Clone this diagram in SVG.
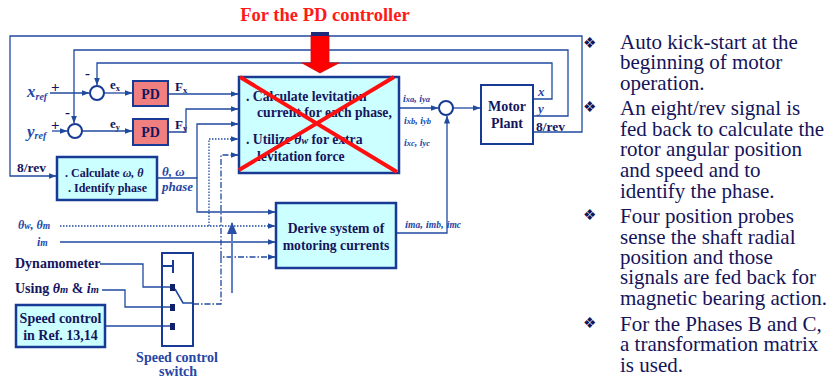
<svg xmlns="http://www.w3.org/2000/svg" width="831" height="379" viewBox="0 0 831 379">
<defs>
<marker id="ah" markerWidth="8" markerHeight="6" refX="7.5" refY="3" orient="auto" markerUnits="userSpaceOnUse"><path d="M0,0 L8,3 L0,6 z" fill="#1f4aa0"/></marker>
<marker id="ahb" markerWidth="12" markerHeight="10" refX="11" refY="5" orient="auto" markerUnits="userSpaceOnUse"><path d="M0,0 L12,5 L0,10 z" fill="#2a4fa8"/></marker>
<style>
.ln{fill:none;stroke:#1f4aa0;stroke-width:1.3}
.dot{stroke-dasharray:1.5 1.5}
.dd{stroke-dasharray:6 2 1.5 2}
.box{fill:#ccffff;stroke:#173a94;stroke-width:2.5}
.wbox{fill:#ffffff;stroke:#173a94;stroke-width:2}
.pd{fill:#f08080;stroke:#173a94;stroke-width:2}
.sum{fill:#ffffff;stroke:#173a94;stroke-width:2}
text{font-family:"Liberation Serif","Times New Roman",Times,"DejaVu Serif",serif}
.bt{font-weight:bold;fill:#15155e}
.lb{font-weight:bold;font-style:italic;fill:#2646a6}
.rt{font-size:21px;fill:#14145a}
.bul{font-family:"DejaVu Sans",sans-serif;font-size:15px;fill:#14145a}
.ttl{font-weight:bold;font-size:18.5px;fill:#ff1a1a}
</style>
</defs>
<rect width="831" height="379" fill="#ffffff"/>

<text class="ttl" x="325" y="21" text-anchor="middle">For the PD controller</text>

<g id="connectors">
<path class="ln" d="M533,132 H582 V36 H10 V176 H56" marker-end="url(#ah)"/>
<path class="ln" d="M533,116 H568 V50 H74 V123" marker-end="url(#ah)"/>
<path class="ln" d="M533,99 H552 V63 H97 V85" marker-end="url(#ah)"/>
<path class="ln" d="M50,93 H89" marker-end="url(#ah)"/>
<path class="ln" d="M52,131 H67" marker-end="url(#ah)"/>
<path class="ln" d="M104,93 H132" marker-end="url(#ah)"/>
<path class="ln" d="M82,131 H132" marker-end="url(#ah)"/>
<path class="ln" d="M168,94 H238" marker-end="url(#ah)"/>
<path class="ln" d="M168,132 H186 V109 H238" marker-end="url(#ah)"/>
<path class="ln" d="M157,178 H197 V212 H275" marker-end="url(#ah)"/>
<path class="ln" d="M197,178 V124 H238" marker-end="url(#ah)"/>
<path class="ln dot" d="M60,226 H275" marker-end="url(#ah)"/>
<path class="ln dot" d="M209,226 V139 H238" marker-end="url(#ah)"/>
<path class="ln" d="M60,242 H275" marker-end="url(#ah)"/>
<path class="ln dd" d="M193,304 H221 V257 H275" marker-end="url(#ah)"/>
<path class="ln dd" d="M221,257 V155 H238" marker-end="url(#ah)"/>
<path fill="none" stroke="#5f7fc4" stroke-width="2" d="M232,293 V223" marker-end="url(#ahb)"/>
<path class="ln" d="M400,108 H438" marker-end="url(#ah)"/>
<path class="ln" d="M396,233 H447 V116" marker-end="url(#ah)"/>
<path class="ln" d="M453,108 H480" marker-end="url(#ah)"/>
<path class="ln" d="M100,264 H143 V287 H170"/>
<path class="ln" d="M102,290 H125 V307 H170"/>
<path class="ln" d="M105,326 H170"/>
<path fill="none" stroke="#1f4aa0" stroke-width="1.6" d="M175,289 L183,303 H193"/>
</g>

<g id="red-arrow">
<path d="M311,35 H329 V63 H339 L320,73 L302,63 H311 Z" fill="#ff0000" stroke="#d01010" stroke-width="0.8"/>
<rect x="311" y="32" width="18" height="4" fill="#1f2a7a"/>
</g>

<g id="sum-x"><circle class="sum" cx="97" cy="93" r="7"/></g>
<g id="sum-y"><circle class="sum" cx="75" cy="131" r="7"/></g>
<g id="sum-i"><circle class="sum" cx="446" cy="108" r="7"/></g>

<g id="labels-ref">
<text class="lb" x="27" y="97" font-size="17">x<tspan font-size="10" dy="3">ref</tspan></text>
<text class="lb" x="27" y="137" font-size="17">y<tspan font-size="10" dy="2">ref</tspan></text>
<text class="bt" x="51" y="92" font-size="15" fill="#2646a6">+</text>
<text class="bt" x="51" y="130" font-size="15" fill="#2646a6">+</text>
<text class="bt" x="85" y="78" font-size="15" fill="#2646a6">-</text>
<text class="bt" x="65" y="117" font-size="15" fill="#2646a6">-</text>
<text class="bt" x="110" y="89" font-size="13">e<tspan font-size="8.5" dy="2">x</tspan></text>
<text class="bt" x="110" y="128" font-size="13">e<tspan font-size="8.5" dy="2">y</tspan></text>
<text class="bt" x="175" y="91" font-size="13">F<tspan font-size="8.5" dy="2">x</tspan></text>
<text class="bt" x="175" y="129" font-size="13">F<tspan font-size="8.5" dy="2">y</tspan></text>
</g>

<g id="pd-x"><rect class="pd" x="133" y="81" width="35" height="25"/><text class="bt" x="150.5" y="98.5" font-size="14" text-anchor="middle">PD</text></g>
<g id="pd-y"><rect class="pd" x="133" y="119" width="35" height="26"/><text class="bt" x="150.5" y="137" font-size="14" text-anchor="middle">PD</text></g>

<g id="calc-levitation">
<rect class="box" x="239" y="77" width="160" height="96"/>
<text class="bt" font-size="13.7"><tspan x="246" y="101">. Calculate levitation</tspan><tspan x="257" y="117">current for each phase,</tspan><tspan x="246" y="144">. Utilize <tspan font-style="italic">θ<tspan font-size="10">w</tspan></tspan> for extra</tspan><tspan x="257" y="161">levitation force</tspan></text>
<path d="M240,77 L397,172 M394,77 L239,170" stroke="#ff1010" stroke-width="4" fill="none"/>
</g>

<g id="calc-omega">
<rect class="box" x="57" y="157" width="100" height="43"/>
<text class="bt" font-size="12"><tspan x="65" y="177">. Calculate <tspan font-style="italic">ω, θ</tspan></tspan><tspan x="68" y="192">.  Identify phase</tspan></text>
</g>
<text class="bt" x="17" y="172" font-size="13.5">8/rev</text>
<text class="lb" x="162" y="176" font-size="13">θ, ω</text>
<text class="lb" x="162" y="191" font-size="13">phase</text>

<g id="derive">
<rect class="box" x="276" y="203" width="120" height="65"/>
<text class="bt" font-size="13.7" text-anchor="middle"><tspan x="336" y="233">Derive system of</tspan><tspan x="336" y="250">motoring currents</tspan></text>
</g>

<g id="motor-plant">
<rect class="wbox" x="481" y="85" width="52" height="59"/>
<text class="bt" font-size="14" text-anchor="middle"><tspan x="507" y="111">Motor</tspan><tspan x="507" y="128">Plant</tspan></text>
</g>
<text class="lb" x="538" y="96" font-size="13">x</text>
<text class="lb" x="538" y="113" font-size="13">y</text>
<text class="bt" x="536" y="131" font-size="13.5">8/rev</text>

<g id="current-labels">
<text class="lb" x="403" y="102" font-size="10">i<tspan font-size="8.5">xa</tspan>, i<tspan font-size="8.5">ya</tspan></text>
<text class="lb" x="404" y="124" font-size="10">i<tspan font-size="8.5">xb</tspan>, i<tspan font-size="8.5">yb</tspan></text>
<text class="lb" x="404" y="146" font-size="10">i<tspan font-size="8.5">xc</tspan>, i<tspan font-size="8.5">yc</tspan></text>
<text class="lb" x="405" y="228" font-size="11">i<tspan font-size="9.5">ma</tspan>, i<tspan font-size="9.5">mb</tspan>, i<tspan font-size="9.5">mc</tspan></text>
</g>

<text class="lb" x="18" y="229" font-size="12">θ<tspan font-size="9.5">w</tspan>, θ<tspan font-size="9.5">m</tspan></text>
<text class="lb" x="37" y="246" font-size="12">i<tspan font-size="9.5">m</tspan></text>
<text class="bt" x="15" y="268" font-size="14">Dynamometer</text>
<text class="bt" x="15" y="293" font-size="14">Using <tspan font-style="italic">θ<tspan font-size="10.5">m</tspan></tspan> &amp; <tspan font-style="italic">i<tspan font-size="10.5">m</tspan></tspan></text>

<g id="speed-control">
<rect class="box" x="16" y="305" width="89" height="42"/>
<text class="bt" font-size="14" text-anchor="middle"><tspan x="60.5" y="323">Speed control</tspan><tspan x="60.5" y="340">in Ref. 13,14</tspan></text>
</g>

<g id="switch">
<rect x="162" y="253" width="31" height="93" fill="none" stroke="#173a94" stroke-width="2"/>
<path d="M162,266 H173 M173,260 V273" stroke="#173a94" stroke-width="2" fill="none"/>
<rect x="170" y="284" width="5" height="7" fill="#10206a"/>
<rect x="170" y="304" width="5" height="7" fill="#10206a"/>
<rect x="170" y="323" width="5" height="7" fill="#10206a"/>
<text class="bt" font-size="14" text-anchor="middle" style="fill:#2646a6"><tspan x="177" y="362">Speed control</tspan><tspan x="178" y="376">switch</tspan></text>
</g>

<g id="bullets">
<text class="bul" x="583" y="48">❖</text>
<text class="bul" x="583" y="112">❖</text>
<text class="bul" x="583" y="220">❖</text>
<text class="bul" x="583" y="328">❖</text>
<text class="rt">
<tspan x="620" y="49">Auto kick-start at the</tspan>
<tspan x="620" y="69">beginning of motor</tspan>
<tspan x="620" y="90">operation.</tspan>
<tspan x="620" y="115">An eight/rev signal is</tspan>
<tspan x="620" y="136">fed back to calculate the</tspan>
<tspan x="620" y="156">rotor angular position</tspan>
<tspan x="620" y="177">and speed and to</tspan>
<tspan x="620" y="198">identify the phase.</tspan>
<tspan x="620" y="223">Four position probes</tspan>
<tspan x="620" y="244">sense the shaft radial</tspan>
<tspan x="620" y="264">position and those</tspan>
<tspan x="620" y="284">signals are fed back for</tspan>
<tspan x="620" y="305">magnetic bearing action.</tspan>
<tspan x="620" y="331">For the Phases B and C,</tspan>
<tspan x="620" y="351">a transformation matrix</tspan>
<tspan x="620" y="372">is used.</tspan>
</text>
</g>
</svg>
